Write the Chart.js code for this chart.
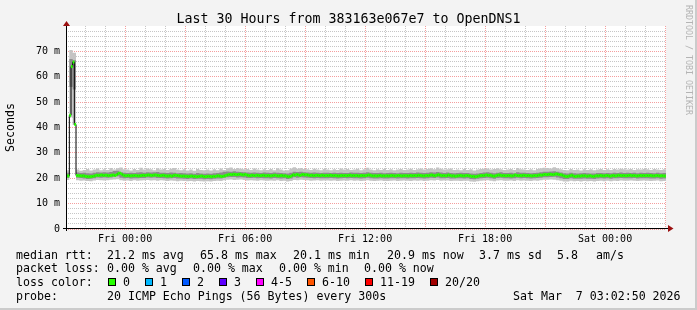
<!DOCTYPE html>
<html>
<head>
<meta charset="utf-8">
<title>Last 30 Hours from 383163e067e7 to OpenDNS1</title>
<script src="https://cdn.jsdelivr.net/npm/chart.js@4.4.1/dist/chart.umd.min.js"></script>
<style>
    body { margin: 0; background: #f3f3f3; }
    #graph { position: relative; width: 697px; height: 310px; background: #f3f3f3; overflow: hidden; }
    #graph canvas { position: absolute; left: 0; top: 0; }
    .txt { position: absolute; font-family: 'DejaVu Sans Mono', monospace; font-size: 11.6px; line-height: 14px; white-space: pre; color: #000; }
    .sw { position: absolute; width: 6px; height: 6px; border: 1px solid #000; top: 278px; }
    #title { left: 0; width: 697px; top: 11px; text-align: center; font-size: 13.3px; line-height: 16px; }
    #mark { position: absolute; left: 684px; top: 5px; writing-mode: vertical-rl; font-family: 'DejaVu Sans Mono', monospace; font-size: 8.3px; line-height: 9px; color: #b4b4b4; white-space: pre; }
    #frame { position: absolute; left: 0; top: 0; width: 695px; height: 308px; border-right: 2px solid #cbcbcb; border-bottom: 2px solid #cbcbcb; pointer-events: none; }
</style>
</head>
<body>
<div id="graph">
    <canvas id="chart" width="697" height="310"></canvas>
    <div id="title" class="txt">Last 30 Hours from 383163e067e7 to OpenDNS1</div>
    <div id="mark">RRDTOOL / TOBI OETIKER</div>

    <div class="txt" style="left:16px;top:248px">median rtt:</div>
    <div class="txt" style="left:107px;top:248px">21.2 ms avg</div>
    <div class="txt" style="left:200px;top:248px">65.8 ms max</div>
    <div class="txt" style="left:293px;top:248px">20.1 ms min</div>
    <div class="txt" style="left:387px;top:248px">20.9 ms now</div>
    <div class="txt" style="left:479px;top:248px">3.7 ms sd</div>
    <div class="txt" style="left:557px;top:248px">5.8</div>
    <div class="txt" style="left:596px;top:248px">am/s</div>

    <div class="txt" style="left:16px;top:261px">packet loss:</div>
    <div class="txt" style="left:107px;top:261px">0.00 % avg</div>
    <div class="txt" style="left:193px;top:261px">0.00 % max</div>
    <div class="txt" style="left:279px;top:261px">0.00 % min</div>
    <div class="txt" style="left:364px;top:261px">0.00 % now</div>

    <div class="txt" style="left:16px;top:275px">loss color:</div>
    <div id="losscolors"></div>

    <div class="txt" style="left:16px;top:289px">probe:</div>
    <div class="txt" style="left:107px;top:289px">20 ICMP Echo Pings (56 Bytes) every 300s</div>
    <div class="txt" style="left:513px;top:289px">Sat Mar  7 03:02:50 2026</div>
    <div id="frame"></div>
</div>

<script>
// 30 hour window ending Sat Mar 7 03:02:50 2026, x values are minutes from the start
const rangeMinutes = 1800;
const stepMinutes = 5;
const smokeStepMinutes = 10;
const firstLabelAt = 177 + 10 / 60;   // 21:02:50 -> Fri 00:00

const xTickLabels = ['Fri 00:00', 'Fri 06:00', 'Fri 12:00', 'Fri 18:00', 'Sat 00:00'];
const yTickLabels = ['0', '10 m', '20 m', '30 m', '40 m', '50 m', '60 m', '70 m'];

// median rtt (ms), one value per 5 minutes, one row per hour
const median = [
    21.0, 20.9, 44.8, 64.0, 65.8, 41.2, 21.1, 21.0, 21.0, 20.9, 21.0, 20.8,
    20.7, 20.6, 20.6, 20.7, 20.8, 21.0, 21.2, 21.1, 21.2, 21.3, 21.1, 21.2,
    21.2, 21.0, 21.1, 21.2, 21.3, 21.1, 21.4, 21.9, 22.0, 21.6, 21.2, 21.0,
    21.0, 21.1, 20.9, 21.0, 21.0, 21.1, 21.0, 20.9, 21.0, 21.1, 21.2, 21.1,
    21.2, 21.3, 21.2, 21.1, 21.2, 21.3, 21.2, 21.1, 21.0, 21.1, 21.2, 21.0,
    20.9, 20.9, 21.0, 20.8, 21.1, 21.2, 21.1, 21.0, 20.9, 20.8, 20.9, 20.8,
    20.8, 20.7, 20.8, 20.9, 20.7, 20.8, 20.6, 20.7, 20.8, 20.9, 20.7, 20.6,
    20.7, 20.8, 20.7, 20.6, 20.8, 20.7, 20.9, 21.0, 20.8, 20.7, 20.8, 21.0,
    21.2, 21.4, 21.5, 21.4, 21.6, 21.5, 21.4, 21.5, 21.6, 21.4, 21.3, 21.5,
    21.3, 21.1, 21.0, 21.2, 21.1, 21.0, 21.2, 21.1, 21.0, 21.1, 21.2, 21.0,
    21.0, 21.1, 20.9, 21.0, 21.1, 21.2, 21.0, 20.9, 21.0, 21.1, 20.9, 21.0,
    20.8, 20.6, 20.7, 21.0, 21.4, 21.2, 21.5, 21.3, 21.1, 21.4, 21.5, 21.3,
    21.4, 21.2, 21.1, 21.2, 21.0, 21.1, 21.2, 21.1, 21.0, 21.2, 21.1, 21.0,
    21.1, 21.0, 21.2, 21.1, 21.0, 21.1, 21.0, 20.9, 21.0, 21.1, 21.0, 21.1,
    21.0, 21.1, 21.2, 21.0, 21.1, 21.0, 21.1, 20.9, 21.0, 21.1, 21.0, 21.0,
    21.1, 21.3, 21.2, 21.0, 20.9, 21.0, 20.9, 21.0, 21.1, 20.9, 21.0, 20.9,
    21.0, 20.9, 21.0, 21.1, 21.0, 20.9, 21.0, 21.1, 21.0, 20.9, 21.0, 21.0,
    21.0, 20.9, 21.1, 21.0, 21.0, 21.1, 21.0, 21.2, 21.1, 21.0, 20.9, 21.0,
    21.1, 21.0, 21.2, 21.3, 21.1, 21.0, 21.2, 21.4, 21.2, 21.0, 21.1, 21.0,
    21.0, 21.3, 21.1, 20.9, 21.0, 20.8, 20.9, 21.0, 21.1, 21.0, 20.9, 21.0,
    21.1, 21.0, 20.9, 20.7, 20.8, 20.6, 20.7, 20.9, 21.0, 21.1, 21.0, 21.2,
    21.3, 21.1, 21.2, 21.0, 20.8, 20.9, 21.1, 21.3, 21.2, 21.0, 21.1, 21.0,
    21.0, 21.1, 21.0, 20.9, 21.0, 21.3, 21.1, 21.0, 21.1, 21.0, 21.2, 21.1,
    21.0, 21.1, 21.0, 20.9, 21.0, 21.1, 21.0, 21.2, 21.3, 21.2, 21.4, 21.5,
    21.4, 21.5, 21.6, 21.5, 21.4, 21.6, 21.7, 21.5, 21.4, 21.3, 21.0, 20.8,
    20.7, 20.8, 21.0, 21.2, 20.9, 20.7, 20.8, 20.9, 20.8, 21.0, 20.9, 21.0,
    20.8, 20.9, 21.0, 20.8, 20.7, 20.9, 21.0, 20.9, 21.1, 21.0, 20.9, 21.0,
    21.1, 21.0, 20.8, 21.0, 21.1, 20.9, 21.0, 21.2, 21.1, 21.0, 21.1, 21.0,
    21.0, 21.1, 21.2, 21.0, 21.1, 21.0, 20.9, 21.0, 21.1, 21.0, 21.1, 21.0,
    21.1, 21.0, 21.1, 21.0, 20.9, 21.0, 21.1, 21.0, 20.9, 21.0, 20.9, 20.9
];

// smoke envelope (ms), one value per 10 minutes, one row per hour
const smokeMax = [
    23.2, 70.5, 69.5, 23.4, 23.0, 23.3,  23.6, 23.1, 23.4, 23.8, 23.2, 23.5,
    23.3, 24.0, 23.4, 23.9, 24.2, 23.5,  23.4, 23.1, 23.6, 23.3, 24.1, 23.4,
    23.8, 23.5, 23.2, 23.9, 23.4, 23.6,  23.3, 23.7, 24.0, 23.4, 23.2, 23.5,
    23.1, 23.4, 23.0, 23.6, 23.3, 23.2,  23.4, 23.1, 23.5, 23.2, 23.8, 23.3,
    23.9, 24.2, 23.6, 24.0, 23.7, 23.5,  23.6, 23.3, 23.8, 23.4, 23.2, 23.5,
    23.3, 23.6, 23.2, 23.9, 23.4, 23.1,  23.2, 23.8, 24.3, 23.7, 24.0, 23.6,
    23.5, 23.3, 23.7, 23.4, 23.2, 23.6,  23.4, 23.2, 23.5, 23.3, 23.8, 23.4,
    23.6, 23.3, 23.4, 23.7, 23.2, 23.5,  24.1, 23.4, 23.2, 23.5, 23.3, 23.6,
    23.3, 23.5, 23.2, 23.4, 23.6, 23.3,  23.4, 23.7, 23.3, 23.5, 23.8, 23.4,
    23.6, 23.9, 23.5, 24.2, 23.7, 23.4,  23.5, 23.8, 23.3, 23.4, 23.2, 23.6,
    23.3, 23.5, 23.1, 23.4, 23.6, 23.7,  23.8, 23.4, 23.6, 23.9, 23.5, 23.3,
    23.4, 23.6, 23.3, 24.0, 23.5, 23.4,  23.3, 23.5, 23.2, 23.6, 23.9, 24.1,
    24.0, 23.8, 24.3, 23.9, 23.5, 23.3,  23.2, 23.6, 23.3, 23.4, 23.1, 23.5,
    23.3, 23.5, 23.2, 23.4, 23.6, 23.3,  23.5, 23.3, 23.6, 23.4, 23.7, 23.5,
    23.4, 23.6, 23.3, 23.5, 23.4, 23.6,  23.5, 23.3, 23.6, 23.4, 23.3, 23.5
];
const smokeHi = [
    22.2, 67.0, 66.5, 22.3, 22.1, 22.2,  22.0, 21.9, 22.2, 22.4, 22.3, 22.4,
    22.3, 22.5, 22.9, 23.0, 22.4, 22.2,  22.1, 22.2, 22.1, 22.3, 22.4, 22.2,
    22.4, 22.3, 22.4, 22.5, 22.2, 22.2,  22.1, 22.3, 22.2, 22.0, 22.1, 22.0,
    21.9, 22.0, 21.8, 22.1, 21.9, 21.8,  21.9, 21.8, 22.0, 22.1, 22.3, 22.6,
    22.7, 22.6, 22.8, 22.6, 22.5, 22.4,  22.3, 22.2, 22.3, 22.2, 22.1, 22.3,
    22.2, 22.1, 22.3, 22.2, 22.1, 22.0,  21.9, 22.2, 22.6, 22.5, 22.6, 22.4,
    22.3, 22.2, 22.3, 22.2, 22.1, 22.2,  22.2, 22.1, 22.2, 22.1, 22.2, 22.1,
    22.1, 22.3, 22.2, 22.2, 22.1, 22.2,  22.4, 22.2, 22.1, 22.1, 22.2, 22.0,
    22.1, 22.2, 22.1, 22.0, 22.2, 22.1,  22.1, 22.2, 22.1, 22.3, 22.2, 22.1,
    22.2, 22.4, 22.3, 22.5, 22.3, 22.1,  22.3, 22.1, 22.0, 22.1, 22.2, 22.1,
    22.1, 21.9, 21.8, 21.9, 22.1, 22.3,  22.4, 22.2, 22.0, 22.2, 22.4, 22.1,
    22.1, 22.2, 22.0, 22.4, 22.2, 22.2,  22.1, 22.0, 22.1, 22.2, 22.4, 22.6,
    22.6, 22.7, 22.8, 22.6, 22.3, 22.0,  21.9, 22.2, 22.0, 21.9, 22.0, 22.1,
    22.0, 21.9, 21.9, 22.1, 22.1, 22.0,  22.1, 22.0, 22.2, 22.1, 22.3, 22.1,
    22.2, 22.1, 22.2, 22.0, 22.2, 22.1,  22.2, 22.1, 22.0, 22.2, 22.0, 22.1
];
const smokeLo = [
    20.1, 56.0, 55.0, 20.2, 20.1, 19.9,  19.7, 19.8, 20.0, 20.3, 20.2, 20.3,
    20.2, 20.3, 20.6, 20.8, 20.2, 20.0,  20.1, 19.9, 20.0, 20.0, 20.1, 20.1,
    20.3, 20.2, 20.3, 20.1, 20.1, 20.0,  19.9, 20.0, 20.1, 19.9, 19.9, 19.8,
    19.7, 19.9, 19.7, 19.8, 19.8, 19.6,  19.7, 19.6, 19.8, 19.9, 19.9, 20.2,
    20.4, 20.5, 20.5, 20.3, 20.4, 20.3,  20.1, 20.1, 20.2, 20.0, 20.1, 20.0,
    20.0, 19.9, 20.1, 20.0, 19.9, 20.0,  19.7, 19.9, 20.4, 20.2, 20.4, 20.3,
    20.2, 20.1, 20.0, 20.1, 20.0, 20.0,  20.0, 20.1, 20.0, 19.9, 20.0, 20.1,
    20.0, 20.1, 20.0, 20.0, 19.9, 20.0,  20.2, 20.0, 19.9, 19.9, 20.0, 19.9,
    19.9, 20.0, 20.0, 19.9, 20.0, 20.0,  19.9, 20.0, 20.0, 20.1, 20.0, 19.9,
    20.0, 20.2, 20.1, 20.3, 20.0, 20.0,  20.1, 19.9, 19.9, 20.0, 20.0, 19.9,
    20.0, 19.7, 19.6, 19.8, 20.0, 20.1,  20.2, 20.0, 19.8, 20.1, 20.2, 20.0,
    20.0, 19.9, 20.0, 20.2, 20.0, 20.1,  20.0, 19.9, 20.0, 20.1, 20.2, 20.4,
    20.4, 20.5, 20.6, 20.3, 20.0, 19.7,  19.7, 20.0, 19.8, 19.8, 19.8, 19.9,
    19.8, 19.8, 19.7, 19.9, 20.0, 19.9,  20.0, 19.8, 20.0, 20.0, 20.1, 20.0,
    20.0, 20.0, 20.1, 19.9, 20.0, 20.0,  20.0, 19.9, 19.9, 20.0, 19.8, 19.9
];
const smokeMin = [
    19.3, 44.0, 41.0, 19.2, 19.0, 19.1,  18.9, 18.8, 19.1, 19.3, 19.2, 19.1,
    19.2, 19.4, 19.5, 19.6, 19.2, 19.0,  19.1, 18.9, 19.2, 19.0, 19.1, 19.2,
    19.3, 19.1, 19.2, 19.0, 19.2, 19.1,  18.9, 19.1, 19.0, 18.8, 19.0, 18.9,
    18.8, 18.9, 18.7, 18.9, 18.8, 18.7,  18.8, 18.7, 18.9, 19.0, 18.9, 19.2,
    19.4, 19.5, 19.3, 19.4, 19.5, 19.3,  19.1, 19.2, 19.1, 19.0, 19.2, 19.1,
    19.0, 19.1, 19.0, 19.2, 18.9, 19.0,  18.7, 18.9, 19.3, 19.2, 19.4, 19.3,
    19.2, 19.0, 19.1, 19.2, 19.0, 19.1,  19.1, 19.0, 19.1, 18.9, 19.0, 19.1,
    19.0, 19.2, 19.0, 19.1, 18.9, 19.0,  19.2, 19.0, 18.9, 19.0, 19.1, 18.9,
    18.9, 19.0, 19.1, 18.9, 19.0, 19.1,  19.0, 18.9, 19.1, 19.0, 19.1, 18.9,
    19.0, 19.2, 19.1, 19.3, 19.0, 19.1,  19.1, 18.9, 19.0, 19.0, 18.9, 19.0,
    19.0, 18.7, 18.6, 18.8, 19.0, 19.1,  19.2, 19.0, 18.8, 19.1, 19.2, 19.0,
    19.0, 19.1, 18.9, 19.2, 19.0, 19.1,  19.0, 18.9, 19.1, 19.0, 19.2, 19.4,
    19.4, 19.5, 19.4, 19.2, 19.0, 18.7,  18.7, 19.0, 18.8, 18.9, 18.7, 18.9,
    18.8, 18.9, 18.7, 18.9, 19.0, 18.8,  19.0, 18.8, 19.0, 18.9, 19.1, 19.0,
    19.0, 19.1, 19.0, 18.9, 19.0, 19.1,  19.0, 18.9, 19.0, 19.1, 18.8, 18.9
];

const lossLabels = ['0', '1', '2', '3', '4-5', '6-10', '11-19', '20/20'];
const lossColors = ['#26ff00', '#00b8ff', '#0059ff', '#5e00ff', '#ff00ff', '#ff5500', '#ff0000', '#a10000'];

const AXIS_FONT = { family: 'DejaVu Sans Mono', size: 10 };
const MINOR_GRID = '#c6c6c6';
const MAJOR_GRID = 'rgba(230, 40, 40, 0.45)';

document.addEventListener('DOMContentLoaded', () => {
    buildLossLegend();
    renderSmokeChart();
});

function buildLossLegend() {
    // swatch positions
    const swatchX = [108, 145, 182, 219, 256, 307, 365, 430];
    const box = document.getElementById('losscolors');
    lossLabels.forEach((label, i) => {
        const sw = document.createElement('div');
        sw.className = 'sw';
        sw.style.left = swatchX[i] + 'px';
        sw.style.background = lossColors[i];
        box.appendChild(sw);

        const txt = document.createElement('div');
        txt.className = 'txt';
        txt.style.left = (swatchX[i] + 15) + 'px';
        txt.style.top = '275px';
        txt.textContent = label;
        box.appendChild(txt);
    });
}

function stepSeries(values, step) {
    const points = values.map((v, i) => ({ x: i * step, y: v }));
    // hold the last sample until the end of its interval
    points.push({ x: values.length * step, y: values[values.length - 1] });
    return points;
}

function hoursFromFirstLabel(value) {
    return Math.round((value - firstLabelAt) / 60);
}

const plotFrame = {
    id: 'plotFrame',
    beforeDraw(chart) {
        const { ctx, chartArea: a } = chart;
        ctx.save();
        ctx.fillStyle = '#ffffff';
        ctx.fillRect(a.left, a.top, a.right - a.left, a.bottom - a.top);
        ctx.restore();
    },
    afterDatasetsDraw(chart) {
        const { ctx, chartArea: a } = chart;
        const x0 = a.left + 0.5;
        const y0 = a.bottom - 0.5;
        ctx.save();
        ctx.strokeStyle = '#000000';
        ctx.lineWidth = 1;
        ctx.beginPath();
        ctx.moveTo(a.left - 3, y0);
        ctx.lineTo(a.right + 3, y0);
        ctx.moveTo(x0, a.bottom + 2);
        ctx.lineTo(x0, a.top - 1);
        ctx.stroke();

        // arrow heads
        ctx.fillStyle = '#9b1010';
        ctx.beginPath();
        ctx.moveTo(x0 - 3.5, a.top);
        ctx.lineTo(x0 + 3.5, a.top);
        ctx.lineTo(x0, a.top - 5);
        ctx.closePath();
        ctx.fill();
        ctx.beginPath();
        ctx.moveTo(a.right + 2, y0 - 3.5);
        ctx.lineTo(a.right + 2, y0 + 3.5);
        ctx.lineTo(a.right + 7.5, y0);
        ctx.closePath();
        ctx.fill();
        ctx.restore();
    }
};

function renderSmokeChart() {
    const ctx = document.getElementById('chart').getContext('2d');

    const medianMarks = median.map((v, i) => ({ x: (i + 0.5) * stepMinutes, y: v }));

    new Chart(ctx, {
        type: 'line',
        data: {
            datasets: [
                {
                    label: 'median loss colour',
                    data: medianMarks,
                    showLine: false,
                    pointStyle: 'line',
                    pointRadius: 0.9,
                    pointBorderWidth: 3,
                    pointBorderColor: lossColors[0],
                    pointHoverRadius: 0
                },
                {
                    label: 'median rtt',
                    data: stepSeries(median, stepMinutes),
                    stepped: 'before',
                    borderColor: '#000000',
                    borderWidth: 1,
                    pointRadius: 0
                },
                {
                    label: 'smoke inner',
                    data: stepSeries(smokeHi, smokeStepMinutes),
                    stepped: 'before',
                    borderWidth: 0,
                    pointRadius: 0,
                    fill: '+1',
                    backgroundColor: '#8c8c8c'
                },
                {
                    label: 'smoke inner low',
                    data: stepSeries(smokeLo, smokeStepMinutes),
                    stepped: 'before',
                    borderWidth: 0,
                    pointRadius: 0
                },
                {
                    label: 'smoke outer',
                    data: stepSeries(smokeMax, smokeStepMinutes),
                    stepped: 'before',
                    borderWidth: 0,
                    pointRadius: 0,
                    fill: '+1',
                    backgroundColor: '#c4c4c4'
                },
                {
                    label: 'smoke outer low',
                    data: stepSeries(smokeMin, smokeStepMinutes),
                    stepped: 'before',
                    borderWidth: 0,
                    pointRadius: 0
                }
            ]
        },
        options: {
            responsive: false,
            animation: false,
            events: [],
            layout: { padding: { top: 26, left: 0, right: 31, bottom: 61 } },
            plugins: {
                legend: { display: false },
                tooltip: { enabled: false }
            },
            scales: {
                x: {
                    type: 'linear',
                    min: 0,
                    max: rangeMinutes,
                    afterFit: (scale) => { scale.height = 20; },
                    afterBuildTicks: (scale) => {
                        const ticks = [];
                        for (let m = firstLabelAt - 120; m < rangeMinutes; m += 60) {
                            ticks.push({ value: m });
                        }
                        scale.ticks = ticks;
                    },
                    grid: {
                        drawTicks: false,
                        color: (c) => (((hoursFromFirstLabel(c.tick.value) % 3) + 3) % 3 === 0 ? MAJOR_GRID : MINOR_GRID)
                    },
                    border: { display: false, dash: [1, 1] },
                    ticks: {
                        autoSkip: false,
                        maxRotation: 0,
                        padding: 4,
                        color: '#000',
                        font: AXIS_FONT,
                        callback: (value) => {
                            const h = hoursFromFirstLabel(value);
                            return h >= 0 && h % 6 === 0 ? xTickLabels[h / 6] : '';
                        }
                    }
                },
                y: {
                    min: 0,
                    max: 80,
                    afterFit: (scale) => { scale.width = 66; },
                    afterBuildTicks: (scale) => {
                        const ticks = [];
                        for (let v = 0; v < 80; v += 2) ticks.push({ value: v });
                        scale.ticks = ticks;
                    },
                    grid: {
                        drawTicks: false,
                        color: (c) => (c.tick.value % 10 === 0 ? MAJOR_GRID : MINOR_GRID)
                    },
                    border: { display: false, dash: [1, 1] },
                    title: {
                        display: true,
                        text: 'Seconds',
                        color: '#000',
                        font: { family: 'DejaVu Sans Mono', size: 11.6 },
                        padding: { top: 4, bottom: 0 }
                    },
                    ticks: {
                        autoSkip: false,
                        padding: 6,
                        color: '#000',
                        font: AXIS_FONT,
                        callback: (value) => (value % 10 === 0 ? yTickLabels[value / 10] : '')
                    }
                }
            }
        },
        plugins: [plotFrame]
    });
}
</script>
</body>
</html>
